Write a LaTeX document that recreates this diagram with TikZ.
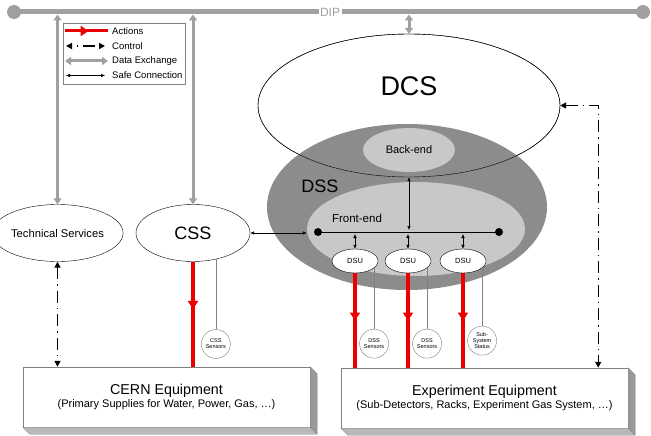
\documentclass[tikz,border=0pt]{standalone}
\usepackage{fontspec}
\setmainfont{Liberation Sans}
\usetikzlibrary{shapes.geometric,arrows.meta,decorations.markings,positioning}
\definecolor{dipgray}{RGB}{160,160,160}
\definecolor{dssgray}{RGB}{140,140,140}
\definecolor{fegray}{RGB}{200,200,200}
\definecolor{actred}{RGB}{235,0,0}
\newcommand{\fsz}[1]{\fontsize{#1}{1.15\dimexpr #1pt\relax}\selectfont}
\begin{document}
\begin{tikzpicture}[x=1pt, y=-1pt,
  ellnode/.style={ellipse, draw, fill=white, inner sep=0pt},
  dsubox/.style={ellnode, minimum width=46pt, minimum height=24pt, font=\fsz{7.5}},
  sensor/.style={circle, draw=gray, fill=white, minimum size=29pt, inner sep=0pt, align=center, font=\fontsize{5.5}{6}\selectfont},
  equip/.style={draw=gray, fill=white, minimum width=287pt, minimum height=60pt, inner sep=0pt, align=center},
  legendtxt/.style={anchor=west, inner sep=0pt, font=\fsz{9.5}},
  dataex/.style={draw=dipgray, line width=3pt, {Triangle[length=6pt,width=8pt]}-{Triangle[length=6pt,width=8pt]}},
  safe/.style={draw=black, line width=0.5pt, {Latex[length=4pt,width=3.5pt]}-{Latex[length=4pt,width=3.5pt]}},
  ctrl/.style={draw=black, line width=1.4pt, dash pattern=on 12pt off 5pt on 1.5pt off 5pt, {Triangle[length=6pt,width=6pt]}-{Triangle[length=6pt,width=6pt]}},
  action/.style={draw=actred, line width=3.5pt, postaction={decorate},
    decoration={markings, mark=at position #1 with {\arrow[actred]{Triangle[length=8pt,width=10pt]}}}},
  action/.default=0.5,
  sensline/.style={draw=gray, line width=0.6pt}]
\useasboundingbox (0,0) rectangle (651,436);

% DIP bus
\draw [dipgray, line width=5pt] (14,12) coordinate (dipL) -- (643,12) coordinate (dipR);
\fill [dipgray] (dipL) circle (7pt) (dipR) circle (7pt);
\node [fill=white, text=dipgray, inner sep=1.5pt, font=\fsz{12}] (dip) at (330,12) {DIP};

% legend
\node [draw=gray, minimum width=122pt, minimum height=61pt, inner sep=0pt] (legend) at (124,53.5) {};
\node [legendtxt] (lgact) at (112,31) {Actions};
\node [legendtxt] (lgctrl) at (112,46) {Control};
\node [legendtxt] (lgdata) at (112,61) {Data Exchange};
\node [legendtxt] (lgsafe) at (112,75.5) {Safe Connection};
\draw [action=0.55, line width=3pt] ([xshift=-47pt]lgact.west) -- ([xshift=-4pt]lgact.west);
\draw [ctrl, dash phase=12pt] ([xshift=-46pt]lgctrl.west) -- ([xshift=-7pt]lgctrl.west);
\draw [dataex] ([xshift=-47pt]lgdata.west) -- ([xshift=-4pt]lgdata.west);
\draw [safe] ([xshift=-46pt]lgsafe.west) -- ([xshift=-7pt]lgsafe.west);

% systems
\node [ellnode, minimum width=113pt, minimum height=57pt, font=\fsz{11.2}] (techsrv) at (57.5,233) {Technical Services};
\node [ellnode, minimum width=114pt, minimum height=57pt, font=\fsz{18}] (css) at (193,233) {CSS};
\node [ellnode, minimum width=302pt, minimum height=143pt] (dcs) at (409,105.5) {};
\node [font=\fsz{27}] (dcslabel) at (409,86) {DCS};
\node [ellipse, fill=dssgray, minimum width=280pt, minimum height=166pt] (dss) at (407,207) {};
\node [font=\fsz{18}] (dsslabel) at (320,186) {DSS};
\node [ellipse, fill=fegray, minimum width=92pt, minimum height=44pt, font=\fsz{11}] (backend) at (409,150) {Back-end};
\node [ellipse, fill=fegray, minimum width=218pt, minimum height=94pt] (frontend) at (416,229) {};
\node [font=\fsz{11.5}] (felabel) at (357,218) {Front-end};
\draw (dcs.center) ellipse [x radius=151pt, y radius=71.5pt]; % DCS outline over DSS

% front-end bus and DSUs
\coordinate (busL) at (318,232);
\coordinate (busR) at (499,232);
\draw (busL) -- (busR);
\fill (busL) circle (4pt) (busR) circle (4pt);
\node [dsubox] (dsu1) at (355,261) {DSU};
\node [dsubox] (dsu2) at (408,261) {DSU};
\node [dsubox] (dsu3) at (463,261) {DSU};

% sensors
\node [sensor, below=70pt of css.-49] (csssens) {CSS\\Sensors};
\node [sensor, below=61pt of dsu1.-20] (dsssens1) {DSS\\Sensors};
\node [sensor, below=61pt of dsu2.-20] (dsssens2) {DSS\\Sensors};
\node [sensor, below=58pt of dsu3.-20] (substat) {Sub-\\System\\Status};
\draw [sensline] (csssens) -- (css.-49);
\draw [sensline] (dsssens1) -- (dsu1.-20);
\draw [sensline] (dsssens2) -- (dsu2.-20);
\draw [sensline] (substat) -- (dsu3.-20);

% equipment boxes
\node [equip] (cern) at (166.5,397) {\fsz{14.3}CERN Equipment\\[1pt]\fsz{11}(Primary Supplies for Water, Power, Gas, …)};
\node [equip] (expeq) at (484.5,398) {\fsz{14.3}Experiment Equipment\\[1pt]\fsz{11}(Sub-Detectors, Racks, Experiment Gas System, …)};
\foreach \eqbox in {cern,expeq} {
  \filldraw [fill=gray!55, draw=gray] (\eqbox.south west) -- ++(7,7) -- ++(287,0) -- ++(-7,-7) -- cycle;
  \filldraw [fill=gray!80, draw=gray] (\eqbox.north east) -- ++(7,7) -- ++(0,60) -- ++(-7,-7) -- cycle;
}

% data exchange with DIP
\draw [dataex] ([yshift=-2.5pt]techsrv.north |- dipL) -- (techsrv.north);
\draw [dataex] ([yshift=-2.5pt]css.north |- dipL) -- (css.north);
\draw [dataex] ([yshift=-2.5pt]dcs.north |- dipL) -- (dcs.north);

% safe connections
\draw [safe] (css.east) -- (css.east -| frontend.west);
\draw [safe] (dcs.south) -- ([yshift=2pt]dcs.south |- busL);
\foreach \n in {1,2,3}
  \draw [safe] ([yshift=-2pt]dsu\n.north |- busL) -- (dsu\n.north);

% actions
\draw [action=0.45] (css.south) -- (css.south |- cern.north);
\foreach \n in {1,2,3}
  \draw [action] (dsu\n.south) -- (dsu\n.south |- expeq.north);

% control
\draw [ctrl] (techsrv.south) -- (techsrv.south |- cern.north);
\draw [ctrl] (dcs.east) -| ([xshift=-30pt]expeq.north east);
\end{tikzpicture}
\end{document}
